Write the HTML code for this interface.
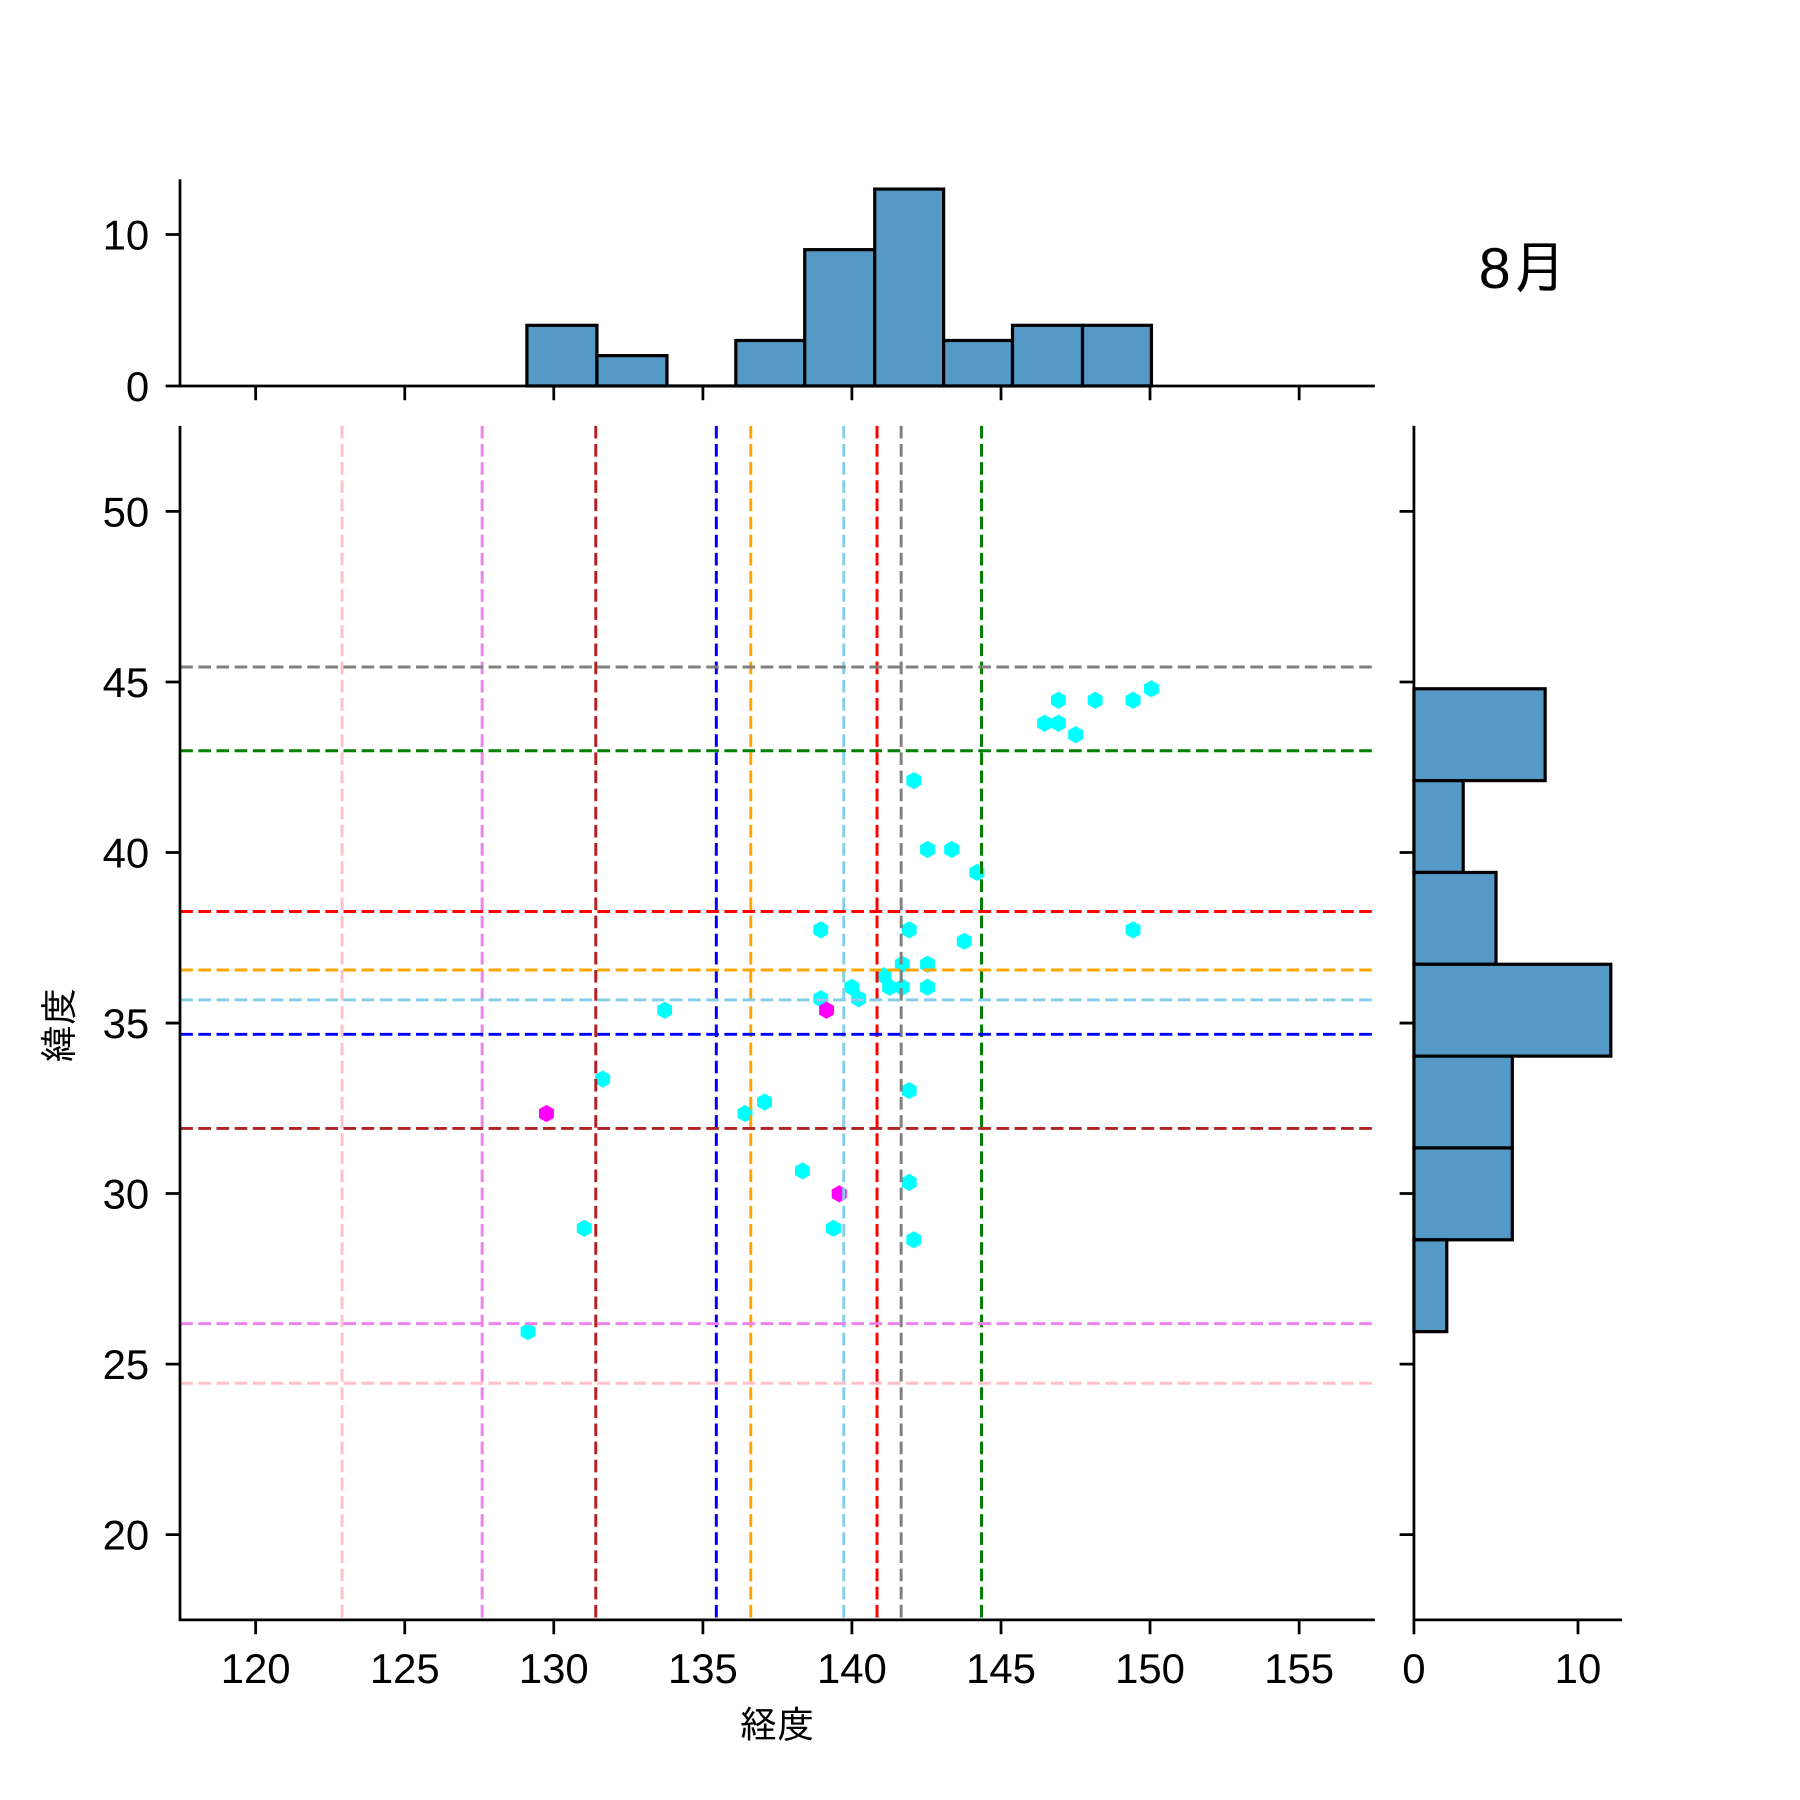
<!DOCTYPE html>
<html><head><meta charset="utf-8"><style>html,body{margin:0;padding:0;background:#fff}svg{display:block}</style></head>
<body>
<svg xmlns="http://www.w3.org/2000/svg" xmlns:xlink="http://www.w3.org/1999/xlink" width="1800" height="1800" viewBox="0 0 1568 1568" font-family="'Liberation Sans','IPAGothic','Noto Sans CJK JP',sans-serif">
<defs>
<polygon id="c" points="0,-7.5 6.5,-3.75 6.5,3.75 0,7.5 -6.5,3.75 -6.5,-3.75" fill="#00ffff"/>
<polygon id="m" points="0,-7.5 6.5,-3.75 6.5,3.75 0,7.5 -6.5,3.75 -6.5,-3.75" fill="#ff00ff"/>
</defs>
<rect width="1568" height="1568" fill="#fff"/>
<g>
<use href="#c" x="715" y="810"/><use href="#c" x="796" y="680"/><use href="#c" x="808" y="740"/><use href="#c" x="829" y="740"/>
<use href="#c" x="851" y="760"/><use href="#c" x="910" y="630"/><use href="#c" x="922" y="610"/><use href="#c" x="922" y="630"/>
<use href="#c" x="937" y="640"/><use href="#c" x="954" y="610"/><use href="#c" x="987" y="610"/><use href="#c" x="1003" y="600"/>
<use href="#c" x="987" y="810"/><use href="#c" x="792" y="810"/><use href="#c" x="840" y="820"/><use href="#c" x="786" y="840"/>
<use href="#c" x="808" y="840"/><use href="#c" x="770" y="850"/><use href="#c" x="775" y="860"/><use href="#c" x="786" y="860"/>
<use href="#c" x="808" y="860"/><use href="#c" x="742" y="860"/><use href="#c" x="748" y="870"/><use href="#c" x="715" y="870"/>
<use href="#c" x="579" y="880"/><use href="#c" x="525" y="940"/><use href="#c" x="649" y="970"/><use href="#c" x="666" y="960"/>
<use href="#c" x="792" y="950"/><use href="#c" x="699" y="1020"/><use href="#c" x="792" y="1030"/><use href="#c" x="509" y="1070"/>
<use href="#c" x="726" y="1070"/><use href="#c" x="796" y="1080"/><use href="#c" x="460" y="1160"/>
<use href="#m" x="476" y="970"/><use href="#m" x="720" y="880"/><use href="#m" x="731" y="1040"/>
</g>
<g fill="none" stroke-width="2.6" stroke-dasharray="11,4.8">
<line x1="298" x2="298" y1="371" y2="1411" stroke="pink"/>
<line x1="420" x2="420" y1="371" y2="1411" stroke="violet"/>
<line x1="519" x2="519" y1="371" y2="1411" stroke="#b22222"/>
<line x1="624" x2="624" y1="371" y2="1411" stroke="blue"/>
<line x1="654" x2="654" y1="371" y2="1411" stroke="orange"/>
<line x1="735" x2="735" y1="371" y2="1411" stroke="skyblue"/>
<line x1="764" x2="764" y1="371" y2="1411" stroke="red"/>
<line x1="785" x2="785" y1="371" y2="1411" stroke="gray"/>
<line x1="855" x2="855" y1="371" y2="1411" stroke="green"/>
<line x1="157" x2="1198" y1="581" y2="581" stroke="gray"/>
<line x1="157" x2="1198" y1="654" y2="654" stroke="green"/>
<line x1="157" x2="1198" y1="794" y2="794" stroke="red"/>
<line x1="157" x2="1198" y1="845" y2="845" stroke="orange"/>
<line x1="157" x2="1198" y1="871" y2="871" stroke="skyblue"/>
<line x1="157" x2="1198" y1="901" y2="901" stroke="blue"/>
<line x1="157" x2="1198" y1="983" y2="983" stroke="#b22222"/>
<line x1="157" x2="1198" y1="1153" y2="1153" stroke="violet"/>
<line x1="157" x2="1198" y1="1205" y2="1205" stroke="pink"/>
</g>
<g fill="#5599c7" stroke="#000" stroke-width="2.8">
<rect x="459" y="283.4" width="61" height="52.8"/>
<rect x="520" y="309.8" width="61" height="26.4"/>
<line x1="581" x2="641" y1="336.2" y2="336.2"/>
<rect x="641" y="296.6" width="60" height="39.6"/>
<rect x="701" y="217.5" width="61" height="118.7"/>
<rect x="762" y="164.7" width="60" height="171.5"/>
<rect x="822" y="296.6" width="60" height="39.6"/>
<rect x="882" y="283.4" width="61" height="52.8"/>
<rect x="943" y="283.4" width="60" height="52.8"/>
<rect x="1231.7" y="600" width="114.3" height="80"/>
<rect x="1231.7" y="680" width="42.9" height="80"/>
<rect x="1231.7" y="760" width="71.5" height="80"/>
<rect x="1231.7" y="840" width="171.5" height="80"/>
<rect x="1231.7" y="920" width="85.7" height="80"/>
<rect x="1231.7" y="1000" width="85.7" height="80"/>
<rect x="1231.7" y="1080" width="28.6" height="80"/>
</g>
<g stroke="#000" stroke-width="2.4" fill="none">
<path d="M156.8,371V1411.1H1197.7"/>
<path d="M156.8,156.2V336.2H1197.7"/>
<path d="M1231.7,371V1411.1H1413"/>
<path d="M222.7,1411.1v12.5M352.6,1411.1v12.5M482.4,1411.1v12.5M612.3,1411.1v12.5M742.1,1411.1v12.5M872,1411.1v12.5M1001.8,1411.1v12.5M1131.7,1411.1v12.5"/>
<path d="M222.7,336.2v12.5M352.6,336.2v12.5M482.4,336.2v12.5M612.3,336.2v12.5M742.1,336.2v12.5M872,336.2v12.5M1001.8,336.2v12.5M1131.7,336.2v12.5"/>
<path d="M156.8,1336.8h-12.5M156.8,1188.3h-12.5M156.8,1039.7h-12.5M156.8,891.2h-12.5M156.8,742.6h-12.5M156.8,594.1h-12.5M156.8,445.5h-12.5"/>
<path d="M1231.7,1336.8h-12.5M1231.7,1188.3h-12.5M1231.7,1039.7h-12.5M1231.7,891.2h-12.5M1231.7,742.6h-12.5M1231.7,594.1h-12.5M1231.7,445.5h-12.5"/>
<path d="M156.8,336.2h-12.5M156.8,204.3h-12.5M1231.7,1411.1v12.5M1374.6,1411.1v12.5"/>
</g>
<g font-size="36.5" fill="#000" text-anchor="middle">
<text x="222.7" y="1466">120</text><text x="352.6" y="1466">125</text><text x="482.4" y="1466">130</text><text x="612.3" y="1466">135</text>
<text x="742.1" y="1466">140</text><text x="872" y="1466">145</text><text x="1001.8" y="1466">150</text><text x="1131.7" y="1466">155</text>
<text x="1231.7" y="1466">0</text><text x="1374.6" y="1466">10</text>
</g>
<g font-size="36.5" fill="#000" text-anchor="end">
<text x="130" y="1349.8">20</text><text x="130" y="1201.3">25</text><text x="130" y="1052.7">30</text><text x="130" y="904.2">35</text>
<text x="130" y="755.6">40</text><text x="130" y="607.1">45</text><text x="130" y="458.5">50</text>
<text x="130" y="349.2">0</text><text x="130" y="217.3">10</text>
</g>
<text x="1327" y="251" font-size="50" text-anchor="middle">8月</text>
<text x="677" y="1514" font-size="33" text-anchor="middle">経度</text>
<text x="0" y="0" font-size="33" text-anchor="middle" transform="translate(63,893) rotate(-90)">緯度</text>
</svg>
</body></html>
